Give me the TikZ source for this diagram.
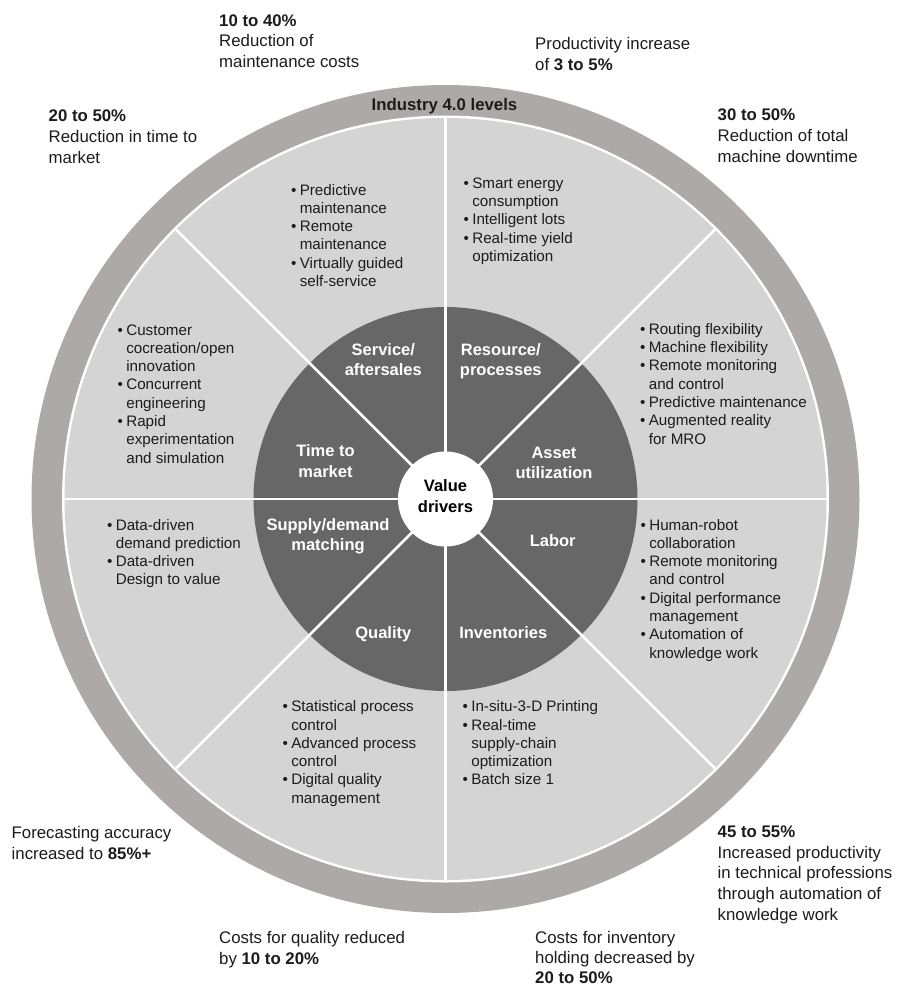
\documentclass[tikz,border=0pt]{standalone}
\usepackage{fontspec}
\setmainfont{Liberation Sans}
\definecolor{ringgray}{HTML}{ADA9A8}
\definecolor{lightgray}{HTML}{D4D4D4}
\definecolor{darkgray}{HTML}{676767}
\definecolor{txt}{HTML}{1C1C1C}
\newcommand{\lefttab}[1]{\begin{tabular}[t]{@{}l@{}}#1\end{tabular}}
\newcommand{\centtab}[1]{\begin{tabular}[t]{@{}c@{}}#1\end{tabular}}
\newcommand{\bitem}{\makebox[8.6pt][l]{•}}
\newcommand{\bcont}{\hspace*{8.6pt}}
\tikzset{
  outertext/.style={anchor=base west, inner sep=0pt, text=txt, font=\fontsize{16.8}{20.8}\selectfont},
  listtext/.style={anchor=base west, inner sep=0pt, text=txt, font=\fontsize{15.2}{18.3}\selectfont},
  seclabel/.style={anchor=base, inner sep=0pt, text=white, font=\bfseries\fontsize{16.5}{20.6}\selectfont},
  divider/.style={draw=white, line width=2.6pt},
}
\begin{document}
\begin{tikzpicture}[x=1pt,y=-1pt]
\useasboundingbox (0,0) rectangle (901,986);
\fill[white] (0,0) rectangle (901,986);
\coordinate (c) at (445.5,499);
% rings
\fill[ringgray] (c) circle[radius=414pt];
\fill[white] (c) circle[radius=383.5pt];
\fill[lightgray] (c) circle[radius=381pt];
\fill[darkgray] (c) circle[radius=192pt];
\foreach \a in {0,45,...,315}{
  \draw[divider] (c) -- ++(\a:381pt);
}
\fill[white] (c) circle[radius=47.5pt];

% ring title
\node[anchor=base, inner sep=0pt, text=txt, font=\bfseries\fontsize{16.8}{20.8}\selectfont] (title) at (444.5,110.7) {Industry 4.0 levels};

% sector labels
\node[seclabel] (service) at (383.3,355) {\centtab{Service/\\aftersales}};
\node[seclabel] (resource) at (500.8,355) {\centtab{Resource/\\processes}};
\node[seclabel] (time) at (325.5,456.7) {\centtab{Time to\\market}};
\node[seclabel] (asset) at (554,458) {\centtab{Asset\\utilization}};
\node[seclabel] (supply) at (328,530) {\centtab{Supply/demand\\matching}};
\node[seclabel] (labor) at (552.7,546.7) {Labor};
\node[seclabel] (quality) at (383.3,638.3) {Quality};
\node[seclabel] (invent) at (503.3,638.3) {Inventories};
\node[seclabel, text=black] (value) at (445.5,491.7) {\centtab{Value\\drivers}};

% bullet lists
\node[listtext] (lservice) at (291,195) {\lefttab{\bitem Predictive\\\bcont maintenance\\\bitem Remote\\\bcont maintenance\\\bitem Virtually guided\\\bcont self-service}};
\node[listtext] (lresource) at (463.5,188.3) {\lefttab{\bitem Smart energy\\\bcont consumption\\\bitem Intelligent lots\\\bitem Real-time yield\\\bcont optimization}};
\node[listtext] (lasset) at (640,334.3) {\lefttab{\bitem Routing flexibility\\\bitem Machine flexibility\\\bitem Remote monitoring\\\bcont and control\\\bitem Predictive maintenance\\\bitem Augmented reality\\\bcont for MRO}};
\node[listtext] (ltime) at (117.5,335) {\lefttab{\bitem Customer\\\bcont cocreation/open\\\bcont innovation\\\bitem Concurrent\\\bcont engineering\\\bitem Rapid\\\bcont experimentation\\\bcont and simulation}};
\node[listtext] (lsupply) at (107,530) {\lefttab{\bitem Data-driven\\\bcont demand prediction\\\bitem Data-driven\\\bcont Design to value}};
\node[listtext] (llabor) at (640.5,530) {\lefttab{\bitem Human-robot\\\bcont collaboration\\\bitem Remote monitoring\\\bcont and control\\\bitem Digital performance\\\bcont management\\\bitem Automation of\\\bcont knowledge work}};
\node[listtext] (lquality) at (282.5,711.7) {\lefttab{\bitem Statistical process\\\bcont control\\\bitem Advanced process\\\bcont control\\\bitem Digital quality\\\bcont management}};
\node[listtext] (linvent) at (462.5,711.7) {\lefttab{\bitem In-situ-3-D Printing\\\bitem Real-time\\\bcont supply-chain\\\bcont optimization\\\bitem Batch size 1}};

% outer texts
\node[outertext] (oservice) at (219,26) {\lefttab{\textbf{10 to 40\%}\\Reduction of\\maintenance costs}};
\node[outertext] (oresource) at (535,49.3) {\lefttab{Productivity increase\\of \textbf{3 to 5\%}}};
\node[outertext] (otime) at (48.5,121.7) {\lefttab{\textbf{20 to 50\%}\\Reduction in time to\\market}};
\node[outertext] (oasset) at (717.5,120.7) {\lefttab{\textbf{30 to 50\%}\\Reduction of total\\machine downtime}};
\node[outertext] (osupply) at (11.5,838.3) {\lefttab{Forecasting accuracy\\increased to \textbf{85\%+}}};
\node[outertext] (olabor) at (717.5,837.3) {\lefttab{\textbf{45 to 55\%}\\Increased productivity\\in technical professions\\through automation of\\knowledge work}};
\node[outertext] (oquality) at (219,943.5) {\lefttab{Costs for quality reduced\\by \textbf{10 to 20\%}}};
\node[outertext, font=\fontsize{16.8}{20.3}\selectfont] (oinvent) at (535,943) {\lefttab{Costs for inventory\\holding decreased by\\\textbf{20 to 50\%}}};
\end{tikzpicture}
\end{document}
